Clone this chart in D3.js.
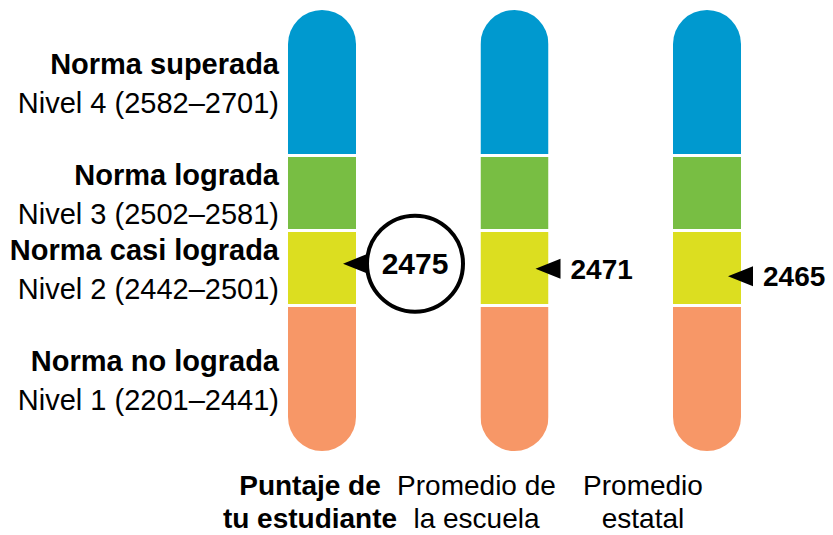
<!DOCTYPE html>
<html>
<head>
<meta charset="utf-8">
<script src="https://cdn.jsdelivr.net/npm/d3@7"></script>
<style>
  body { margin: 0; background: #fff; }
  text { font-family: "Liberation Sans", Arial, sans-serif; fill: #000; }
</style>
</head>
<body>
<div id="chart"></div>
<script>
// Performance levels (bottom to top)
const levelNames = ["Norma no lograda", "Norma casi lograda", "Norma lograda", "Norma superada"];
const levelLabels = ["Nivel 1", "Nivel 2", "Nivel 3", "Nivel 4"];
const levelLow = [2201, 2442, 2502, 2582];
const levelHigh = [2441, 2501, 2581, 2701];
const levelColors = ["#f79767", "#dcde20", "#78be43", "#0099cf"];

// Columns and scores
const columns = [["Puntaje de", "tu estudiante"], ["Promedio de", "la escuela"], ["Promedio", "estatal"]];
const scores = [2475, 2471, 2465];

const width = 833, height = 535;
const barW = 68, gap = 3;

const svg = d3.select("#chart").append("svg")
  .attr("width", width)
  .attr("height", height);

// Each level gets its own piece of the scale (not proportional to range)
const y = d3.scaleLinear()
  .domain([levelLow[0], levelHigh[0] + 0.5, levelHigh[1] + 0.5, levelHigh[2] + 0.5, levelHigh[3]])
  .range([451, 305.5, 230.5, 155.5, 10]);

const x = d3.scalePoint()
  .domain(d3.range(columns.length))
  .range([322, 707]);

const levels = levelNames.map((n, i) => ({
  name: n, label: levelLabels[i], low: levelLow[i], high: levelHigh[i], color: levelColors[i]
}));

// segment edges, with a small white gap between levels
const segTop = (d, j) => y(j === 3 ? d.high : d.high + 0.5) + (j === 3 ? 0 : gap / 2);
const segBot = (d, j) => y(j === 0 ? d.low : d.low - 0.5) - (j === 0 ? 0 : gap / 2);

// rounded clip for the pill shape
const defs = svg.append("defs");
columns.forEach((c, i) => {
  defs.append("clipPath").attr("id", "pill" + i)
    .append("rect")
    .attr("x", x(i) - barW / 2)
    .attr("y", y(levelHigh[3]))
    .attr("width", barW)
    .attr("height", y(levelLow[0]) - y(levelHigh[3]))
    .attr("rx", barW / 2);
});

columns.forEach((c, i) => {
  svg.append("g").attr("clip-path", `url(#pill${i})`)
    .selectAll("rect")
    .data(levels)
    .join("rect")
      .attr("x", x(i) - barW / 2)
      .attr("width", barW)
      .attr("y", segTop)
      .attr("height", (d, j) => segBot(d, j) - segTop(d, j))
      .attr("fill", d => d.color);
});

// level labels on the left
const lab = svg.append("g").attr("text-anchor", "end");
levels.forEach((d, j) => {
  const cy = (segTop(d, j) + segBot(d, j)) / 2;
  lab.append("text")
    .attr("x", 279).attr("y", cy - 8)
    .attr("font-size", 29).attr("font-weight", "bold")
    .text(d.name);
  lab.append("text")
    .attr("x", 279).attr("y", cy + 31)
    .attr("font-size", 29)
    .text(`${d.label} (${d.low}–${d.high})`);
});

// score markers
const arrow = (tip, yy) => `M${tip},${yy} L${tip + 25},${yy - 10} L${tip + 25},${yy + 10} Z`;
scores.forEach((s, i) => {
  const tip = x(i) + barW / 2 - 13;
  const yy = y(s);
  if (i === 0) {
    const cx = tip + 72;
    svg.append("circle")
      .attr("cx", cx).attr("cy", yy).attr("r", 48)
      .attr("fill", "#fff").attr("stroke", "#000").attr("stroke-width", 4);
    svg.append("path").attr("d", arrow(tip, yy)).attr("fill", "#000");
    svg.append("text")
      .attr("x", cx).attr("y", yy + 10)
      .attr("text-anchor", "middle")
      .attr("font-size", 30).attr("font-weight", "bold")
      .text(s);
  } else {
    svg.append("path").attr("d", arrow(tip, yy)).attr("fill", "#000");
    svg.append("text")
      .attr("x", tip + 35).attr("y", yy + 10)
      .attr("font-size", 28).attr("font-weight", "bold")
      .text(s);
  }
});

// column labels
const labelShift = [-12, -38, -64];
columns.forEach((c, i) => {
  c.forEach((line, k) => {
    svg.append("text")
      .attr("x", x(i) + labelShift[i])
      .attr("y", 495 + k * 33)
      .attr("text-anchor", "middle")
      .attr("font-size", 28)
      .attr("font-weight", i === 0 ? "bold" : "normal")
      .text(line);
  });
});
</script>
</body>
</html>
